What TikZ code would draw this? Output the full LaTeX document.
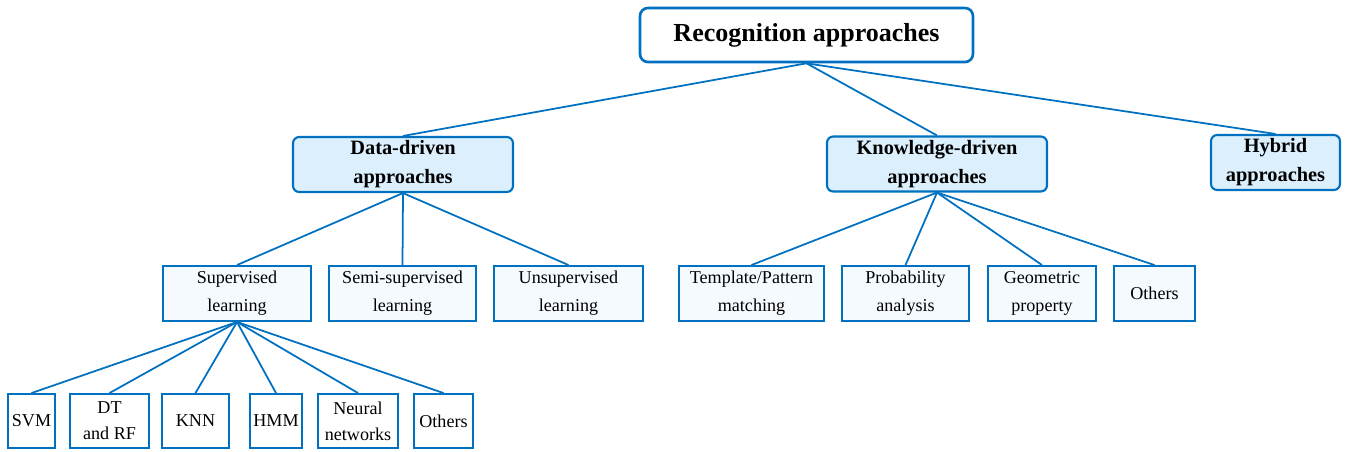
\documentclass[tikz,border=0pt]{standalone}
\usepackage{fontspec}
\setmainfont{Liberation Serif}
\definecolor{lineblue}{RGB}{0,112,192}
\definecolor{lightblue}{RGB}{219,240,252}
\definecolor{paleblue}{RGB}{245,250,255}
\begin{document}
\begin{tikzpicture}[x=0.02cm,y=-0.02cm,
	rootbox/.style={draw=lineblue,line width=1.5pt,rounded corners=4.5pt,fill=white,inner sep=0pt,align=center,minimum height=1.08cm,font=\fontsize{14.8}{17}\selectfont\bfseries},
	groupbox/.style={draw=lineblue,line width=1.2pt,rounded corners=3.5pt,fill=lightblue,inner sep=0pt,align=center,minimum height=1.1cm,font=\fontsize{11.6}{16.5}\selectfont\bfseries},
	methodbox/.style={draw=lineblue,line width=1.1pt,fill=paleblue,inner sep=0pt,align=center,minimum height=1.1cm,font=\fontsize{10.3}{16}\selectfont},
	leafbox/.style={draw=lineblue,line width=1.1pt,fill=white,inner sep=0pt,align=center,minimum height=1.08cm,font=\fontsize{10.3}{14.8}\selectfont},
	link/.style={draw=lineblue,line width=1pt}]
	\useasboundingbox (0,0) rectangle (1346,451);
	% root
	\node[rootbox,minimum width=6.66cm] (root) at (806.5,35) {Recognition approaches};
	% second level
	\node[groupbox,minimum width=4.4cm] (data) at (403,164.5) {Data-driven\\approaches};
	\node[groupbox,minimum width=4.4cm] (know) at (937,164) {Knowledge-driven\\approaches};
	\node[groupbox,minimum width=2.58cm] (hybrid) at (1275.5,162.5) {Hybrid\\approaches};
	% learning types
	\node[methodbox,minimum width=2.96cm] (sup) at (237,293.5) {Supervised\\learning};
	\node[methodbox,minimum width=2.94cm] (semi) at (402.5,293.5) {Semi-supervised\\learning};
	\node[methodbox,minimum width=2.98cm] (unsup) at (568.5,293.5) {Unsupervised\\learning};
	% knowledge methods
	\node[methodbox,minimum width=2.9cm] (templ) at (751.5,293.5) {Template/Pattern\\matching};
	\node[methodbox,minimum width=2.54cm] (prob) at (905.5,293.5) {Probability\\analysis};
	\node[methodbox,minimum width=2.16cm] (geom) at (1042,293.5) {Geometric\\property};
	\node[methodbox,minimum width=1.62cm] (kothers) at (1154.5,293.5) {Others};
	% supervised algorithms
	\node[leafbox,minimum width=0.94cm] (svm) at (31.5,421) {SVM};
	\node[leafbox,minimum width=1.58cm] (dt) at (109.5,421) {DT\\and RF};
	\node[leafbox,minimum width=1.34cm] (knn) at (195.5,421) {KNN};
	\node[leafbox,minimum width=1.04cm] (hmm) at (276,421) {HMM};
	\node[leafbox,minimum width=1.6cm] (nn) at (358,421) {Neural\\networks};
	\node[leafbox,minimum width=1.18cm] (sothers) at (443.5,421) {Others};
	% connectors
	\foreach \c in {data,know,hybrid}
		\draw[link] (root.south) -- (\c.north);
	\foreach \c in {sup,semi,unsup}
		\draw[link] (data.south) -- (\c.north);
	\foreach \c in {templ,prob,geom,kothers}
		\draw[link] (know.south) -- (\c.north);
	\foreach \c in {svm,dt,knn,hmm,nn,sothers}
		\draw[link] (sup.south) -- (\c.north);
\end{tikzpicture}
\end{document}
